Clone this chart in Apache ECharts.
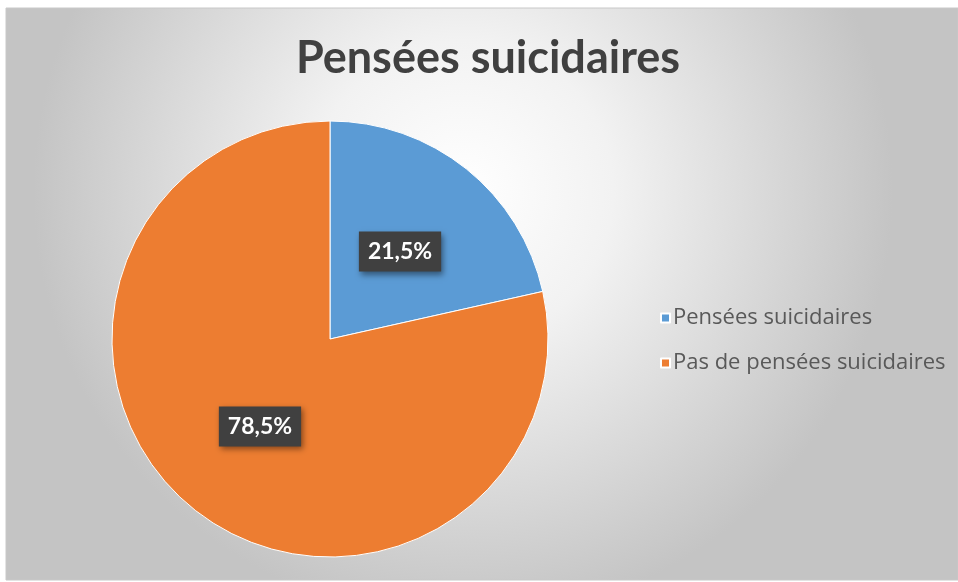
<!DOCTYPE html>
<html>
<head>
<meta charset="utf-8">
<script src="https://cdn.jsdelivr.net/npm/echarts@6/dist/echarts.min.js"></script>
<style>
  html, body { margin: 0; padding: 0; background: #fff; }
  #chart { width: 958px; height: 582px; }
</style>
</head>
<body>
<div id="chart"></div>
<script>
  // données
  var categories = ['Pensées suicidaires', 'Pas de pensées suicidaires']
  var values = [21.5, 78.5]
  var colors = ['#5B9BD5', '#ED7D31']

  var chart = echarts.init(document.getElementById('chart'))
  var option = {
    backgroundColor: '#fff',
    graphic: [{
      type: 'rect',
      z: -10,
      silent: true,
      shape: { x: 6, y: 8, width: 952, height: 572 },
      style: {
        fill: new echarts.graphic.RadialGradient(0.48, 0.32, 0.75, [
          { offset: 0, color: '#ffffff' },
          { offset: 0.35, color: '#f2f2f2' },
          { offset: 1, color: '#c4c4c4' }
        ]),
        stroke: '#c8c8c8',
        lineWidth: 1
      }
    }],
    title: {
      text: 'Pensées suicidaires',
      left: 483,
      textAlign: 'center',
      top: 31,
      textStyle: {
        fontFamily: 'Lato',
        fontWeight: 'bold',
        fontSize: 45,
        color: '#404040'
      }
    },
    legend: {
      orient: 'vertical',
      left: 655,
      top: 302,
      itemWidth: 9,
      itemHeight: 9,
      itemGap: 23,
      icon: 'rect',
      textStyle: {
        fontFamily: 'Open Sans',
        fontSize: 22,
        color: '#595959',
        padding: [0, 0, 0, -2]
      },
      data: categories
    },
    series: [{
      type: 'pie',
      center: [330, 339],
      radius: [0, 218],
      startAngle: 90,
      clockwise: true,
      silent: true,
      itemStyle: {
        borderColor: '#fff',
        borderWidth: 1
      },
      label: {
        show: true,
        position: 'inside',
        formatter: function (p) {
          return p.value.toFixed(1).replace('.', ',') + '%'
        },
        fontFamily: 'Lato',
        fontWeight: 'bold',
        fontSize: 23,
        color: '#fff',
        backgroundColor: '#404040',
        padding: [9, 9, 8, 9],
        shadowBlur: 6,
        shadowOffsetX: 2,
        shadowOffsetY: 3,
        shadowColor: 'rgba(0,0,0,0.45)'
      },
      labelLine: { show: false },
      data: categories.map(function (name, i) {
        return { name: name, value: values[i], itemStyle: { color: colors[i] } }
      })
    }]
  }
  chart.setOption(option)
</script>
</body>
</html>
